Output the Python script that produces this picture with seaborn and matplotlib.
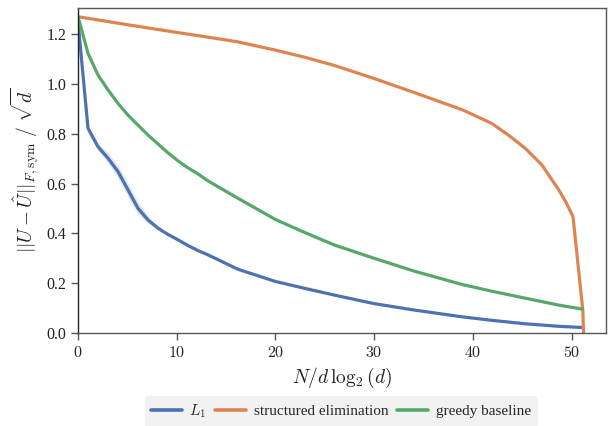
import numpy as np
import pandas as pd
import matplotlib
matplotlib.use("Agg")
import matplotlib.pyplot as plt
import seaborn as sns

# ---- data ----
blue_x = [0, 1.01, 2.02, 3.04, 4.05, 5.06, 6.07, 7.09, 8.1, 9.1, 10.1, 11.1, 12.15,
          13.16, 16.2, 20, 23, 26, 30, 34.1, 38.9, 41.9, 45.3, 48.7, 51.1]
blue_y = [1.25, 0.822, 0.748, 0.702, 0.648, 0.575, 0.501, 0.454, 0.421, 0.396, 0.375,
          0.352, 0.331, 0.314, 0.256, 0.207, 0.179, 0.152, 0.118, 0.092, 0.065, 0.051,
          0.037, 0.027, 0.022]
blue_err = [0.0, 0.01, 0.016, 0.02, 0.025, 0.028, 0.025, 0.015, 0.008, 0.004, 0.002,
            0.0, 0.0, 0.0, 0.0, 0.0, 0.0, 0.0, 0.0, 0.0, 0.0, 0.0, 0.0, 0.0, 0.0]

green_x = [0, 1.01, 2.02, 3.04, 4.05, 5.06, 6.07, 7.09, 8.1, 9.1, 10.1, 11.1, 12.15,
           13.16, 16.2, 20, 23, 26, 30, 34.1, 38.9, 41.9, 45.3, 48.7, 51.1]
green_y = [1.27, 1.123, 1.036, 0.976, 0.922, 0.875, 0.835, 0.795, 0.759, 0.724, 0.692,
           0.664, 0.639, 0.611, 0.541, 0.456, 0.403, 0.353, 0.300, 0.248, 0.195, 0.168,
           0.140, 0.112, 0.096]

orange_x = [0, 5.0, 10.0, 13.16, 16.2, 20, 23, 26, 30, 34.1, 38.9, 41.9, 43.6, 45.3,
            47, 48.7, 49.4, 50.15, 51.15, 51.22]
orange_y = [1.27, 1.238, 1.207, 1.188, 1.169, 1.136, 1.107, 1.074, 1.022, 0.965, 0.897,
            0.842, 0.795, 0.742, 0.675, 0.575, 0.528, 0.468, 0.09, 0.0]

labels = ["$L_1$", "structured elimination", "greedy baseline"]
x_ticks = [0, 10, 20, 30, 40, 50]
y_ticks = [0.0, 0.2, 0.4, 0.6, 0.8, 1.0, 1.2]

df = pd.concat([
    pd.DataFrame({"x": blue_x, "y": blue_y, "method": labels[0]}),
    pd.DataFrame({"x": orange_x, "y": orange_y, "method": labels[1]}),
    pd.DataFrame({"x": green_x, "y": green_y, "method": labels[2]}),
], ignore_index=True)

sns.set_theme(style="white")
plt.rcParams["font.family"] = ["Liberation Serif", "DejaVu Serif"]
plt.rcParams["mathtext.fontset"] = "cm"

pal = sns.color_palette("deep")
colors = {labels[0]: pal[0], labels[1]: pal[1], labels[2]: pal[2]}

fig = plt.figure(figsize=(6.11, 4.26), dpi=100)
ax = fig.add_axes([0.1277, 0.2183, 0.8642, 0.7629])

bx = np.array(blue_x); by = np.array(blue_y); be = np.array(blue_err)
ax.fill_between(bx, by - be, by + be, color=pal[0], alpha=0.18, lw=0)

sns.lineplot(data=df, x="x", y="y", hue="method", palette=colors, ax=ax,
             linewidth=2.3, sort=False, estimator=None, legend=True)
for ln in ax.get_lines():
    ln.set_solid_joinstyle("round")

ax.set_xlim(0, 53.5)
ax.set_ylim(0, 1.305)
ax.set_xticks(x_ticks)
ax.set_xticklabels([f"${t}$" for t in x_ticks])
ax.set_yticks(y_ticks)
ax.set_yticklabels([f"{t:.1f}" for t in y_ticks])
ax.tick_params(axis="both", which="major", direction="out", length=5, width=1,
               color="#555555", labelsize=11.5, labelcolor="#222222", bottom=True, left=True)
for s in ax.spines.values():
    s.set_color("#555555")
    s.set_linewidth(1.0)
ax.spines["left"].set_color("#222222")

ax.set_xlabel(r"$N/d\,\log_2(d)$", fontsize=14, color="#222222")
ax.set_ylabel(r"$||U-\hat{U}||_{F,\mathrm{sym}}\ /\ \sqrt{d}$", fontsize=14, color="#222222")

handles, labs = ax.get_legend_handles_labels()
ax.legend_.remove()
leg = fig.legend(handles, labs, loc="center", bbox_to_anchor=(0.558, 0.035), ncol=3,
                 fontsize=11, frameon=True, handlelength=2.0, columnspacing=0.6,
                 handletextpad=0.5, borderpad=0.4)
leg.get_frame().set_facecolor("#f2f2f2")
leg.get_frame().set_edgecolor("#f2f2f2")
leg.get_frame().set_alpha(1)
for line in leg.get_lines():
    line.set_linewidth(2.6)

fig.savefig("out.png", dpi=100)
